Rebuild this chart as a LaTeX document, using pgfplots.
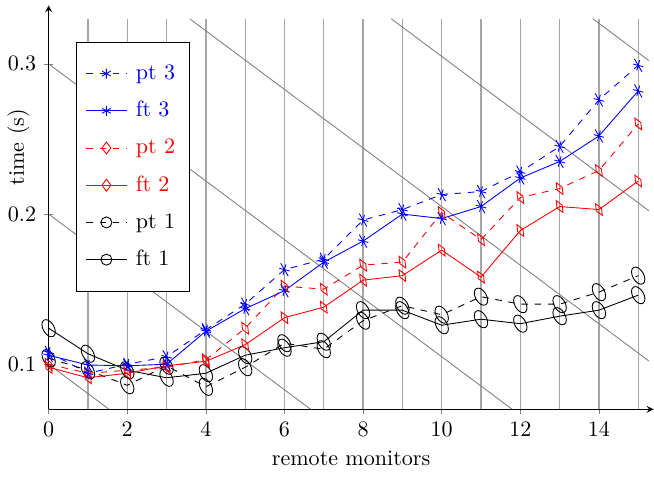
\documentclass[border={0pt 3pt 0pt 2.2pt}]{standalone}
\usepackage{pgfplots}
\pgfplotsset{compat=1.18}
% distorted marks used in the plot area (legend uses plain ones)
\pgfplotsset{
  skew/.style={mark options={solid, rotate=30, yscale=1.7}},
}
\begin{document}
\begin{tikzpicture}
\begin{axis}[
  scale only axis,
  width=274pt, height=183pt,
  xmin=0, xmax=15.39, ymin=0.07, ymax=0.339,
  axis lines=left,
  xtick={0,2,...,14}, ytick={0.1,0.2,0.3},
  tick align=center,
  unbounded coords=jump,
  xlabel={remote monitors},
  ylabel={time (s)},
  every axis y label/.style={at={(axis description cs:-0.05,0.649)}, rotate=90, anchor=center},
  legend style={at={(0.0444,0.909)}, anchor=north west, draw=black,
    inner ysep=8pt, inner xsep=4.5pt, row sep=4.5pt, column sep=2pt},
  legend cell align=left,
  legend image code/.code={\draw[mark repeat=2,mark phase=2,#1] plot coordinates {(0cm,0cm) (0.32cm,0cm) (0.64cm,0cm)};},
]
% vertical guide lines
\addplot[gray!70, line width=0.6pt, forget plot] coordinates {
(1,0.07) (1,0.33) (nan,nan) (2,0.07) (2,0.33) (nan,nan)
(3,0.07) (3,0.33) (nan,nan) (4,0.07) (4,0.33) (nan,nan)
(5,0.07) (5,0.33) (nan,nan) (6,0.07) (6,0.33) (nan,nan)
(7,0.07) (7,0.33) (nan,nan) (8,0.07) (8,0.33) (nan,nan)
(9,0.07) (9,0.33) (nan,nan) (10,0.07) (10,0.33) (nan,nan)
(11,0.07) (11,0.33) (nan,nan) (12,0.07) (12,0.33) (nan,nan)
(13,0.07) (13,0.33) (nan,nan) (14,0.07) (14,0.33) (nan,nan)
(15,0.07) (15,0.33)};
% diagonal guide lines
\addplot[gray, line width=0.4pt, forget plot] coordinates {(0,0.1) (1.538,0.07)};
\addplot[gray, line width=0.4pt, forget plot] coordinates {(0,0.2) (6.667,0.07)};
\addplot[gray, line width=0.4pt, forget plot] coordinates {(0,0.3) (11.795,0.07)};
\addplot[gray, line width=0.4pt, forget plot] coordinates {(3.590,0.33) (15.27,0.1022)};
\addplot[gray, line width=0.4pt, forget plot] coordinates {(8.718,0.33) (15.27,0.2022)};
\addplot[gray, line width=0.4pt, forget plot] coordinates {(13.846,0.33) (15.27,0.3022)};

% legend images
\addlegendimage{blue, dashed, mark=asterisk, mark size=2.25pt, mark options={solid}}
\addlegendentry{\textcolor{blue}{pt 3}}
\addlegendimage{blue, mark=asterisk, mark size=2.25pt}
\addlegendentry{\textcolor{blue}{ft 3}}
\addlegendimage{red, dashed, mark=diamond, mark size=2.7pt, mark options={solid}}
\addlegendentry{\textcolor{red}{pt 2}}
\addlegendimage{red, mark=diamond, mark size=2.7pt}
\addlegendentry{\textcolor{red}{ft 2}}
\addlegendimage{black, dashed, mark=o, mark size=2.5pt, mark options={solid}}
\addlegendentry{pt 1}
\addlegendimage{black, mark=o, mark size=2.5pt}
\addlegendentry{ft 1}

% ft 1
\addplot[black, mark=o, mark size=2.5pt, skew, forget plot] coordinates {
(0,0.124) (1,0.107) (2,0.096) (3,0.091) (4,0.094) (5,0.106) (6,0.111) (7,0.115)
(8,0.136) (9,0.136) (10,0.126) (11,0.130) (12,0.127) (13,0.132) (14,0.136) (15,0.146)};
% pt 1
\addplot[black, dashed, mark=o, mark size=2.5pt, skew, forget plot] coordinates {
(0,0.104) (1,0.096) (2,0.086) (3,0.099) (4,0.085) (5,0.098) (6,0.114) (7,0.110)
(8,0.129) (9,0.139) (10,0.133) (11,0.145) (12,0.140) (13,0.140) (14,0.148) (15,0.159)};
% ft 2
\addplot[red, mark=diamond, mark size=1.8pt, skew, forget plot] coordinates {
(0,0.098) (1,0.091) (2,0.094) (3,0.099) (4,0.102) (5,0.113) (6,0.131) (7,0.138)
(8,0.156) (9,0.159) (10,0.176) (11,0.158) (12,0.189) (13,0.205) (14,0.203) (15,0.222)};
% pt 2
\addplot[red, dashed, mark=diamond, mark size=1.8pt, skew, forget plot] coordinates {
(0,0.100) (1,0.094) (2,0.096) (3,0.098) (4,0.103) (5,0.124) (6,0.152) (7,0.150)
(8,0.166) (9,0.168) (10,0.201) (11,0.183) (12,0.211) (13,0.217) (14,0.229) (15,0.260)};
% ft 3
\addplot[blue, mark=asterisk, mark size=2pt, skew, forget plot] coordinates {
(0,0.106) (1,0.0995) (2,0.099) (3,0.100) (4,0.122) (5,0.137) (6,0.149) (7,0.168)
(8,0.182) (9,0.200) (10,0.197) (11,0.205) (12,0.224) (13,0.235) (14,0.252) (15,0.282)};
% pt 3
\addplot[blue, dashed, mark=asterisk, mark size=2pt, skew, forget plot] coordinates {
(0,0.108) (1,0.094) (2,0.100) (3,0.105) (4,0.123) (5,0.140) (6,0.163) (7,0.170)
(8,0.196) (9,0.203) (10,0.213) (11,0.215) (12,0.228) (13,0.245) (14,0.276) (15,0.299)};
\end{axis}
\end{tikzpicture}
\end{document}
